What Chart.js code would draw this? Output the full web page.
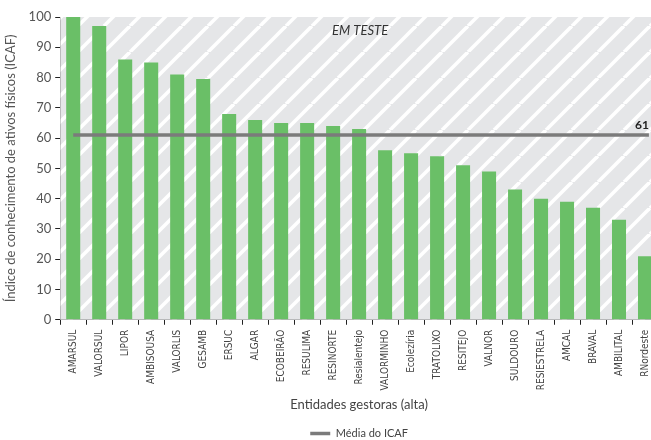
<!DOCTYPE html>
<html>
<head>
<meta charset="utf-8">
<script src="https://cdn.jsdelivr.net/npm/chart.js@4/dist/chart.umd.min.js"></script>
<style>
  html, body { margin: 0; padding: 0; background: #fff; overflow: hidden; }
  #wrap { width: 651px; height: 440px; overflow: hidden; }
  #c { display: block; }
</style>
</head>
<body>
<!-- the last entity's slot runs a few pixels past the right edge of the frame -->
<div id="wrap"><canvas id="c" width="658" height="440"></canvas></div>
<script>
// Entidades gestoras (alta) and their ICAF scores
const categories = ['AMARSUL', 'VALORSUL', 'LIPOR', 'AMBISOUSA', 'VALORLIS', 'GESAMB', 'ERSUC', 'ALGAR',
  'ECOBEIRÃO', 'RESULIMA', 'RESINORTE', 'Resialentejo', 'VALORMINHO', 'Ecolezíria', 'TRATOLIXO',
  'RESITEJO', 'VALNOR', 'SULDOURO', 'RESIESTRELA', 'AMCAL', 'BRAVAL', 'AMBILITAL', 'RNordeste'];
const icafValues = [100, 97, 86, 85, 81, 79.5, 68, 66, 65, 65, 64, 63, 56, 55, 54, 51, 49, 43, 40, 39, 37, 33, 21];
const icafAverage = 61;
// the average line runs from the first entity to just past the last one
const averageSpan = [0, categories.length - 0.85];
const yTicks = [0, 10, 20, 30, 40, 50, 60, 70, 80, 90, 100];
const zoneLabel = 'EM TESTE';

const FONT = 'Lato, "Open Sans", sans-serif';
const NARROW = '"Liberation Sans Narrow", "DejaVu Sans Condensed", Lato, sans-serif';

// diagonal white stripes on light grey for the "em teste" zone
function stripePattern(ctx) {
  const s = 26;
  const tile = document.createElement('canvas');
  tile.width = s; tile.height = s;
  const t = tile.getContext('2d');
  t.fillStyle = '#e5e6e8';
  t.fillRect(0, 0, s, s);
  t.strokeStyle = '#ffffff';
  t.lineWidth = 3.6;
  for (const k of [-s, 0, s]) {
    t.beginPath();
    t.moveTo(k, s);
    t.lineTo(k + s, 0);
    t.stroke();
  }
  return ctx.createPattern(tile, 'repeat');
}

const zonePlugin = {
  id: 'zone',
  beforeDatasetsDraw(chart) {
    const { ctx, chartArea: a } = chart;
    ctx.save();
    ctx.fillStyle = stripePattern(ctx);
    ctx.fillRect(a.left, a.top, a.right - a.left, a.bottom - a.top);
    ctx.fillStyle = '#333';
    ctx.font = 'italic 13px ' + FONT;
    ctx.textAlign = 'left';
    ctx.textBaseline = 'middle';
    ctx.fillText(zoneLabel, chart.scales.x.getPixelForValue(10) - 1, a.top + 14);
    ctx.restore();
  },
  afterDatasetsDraw(chart) {
    const { ctx } = chart;
    const y = chart.scales.y.getPixelForValue(icafAverage);
    const xEnd = chart.scales.x2.getPixelForValue(averageSpan[1]);
    ctx.save();
    ctx.fillStyle = '#222';
    ctx.font = 'bold 12px ' + FONT;
    ctx.textAlign = 'right';
    ctx.textBaseline = 'bottom';
    ctx.fillText(String(icafAverage), xEnd, y - 4);
    ctx.restore();
  }
};

new Chart(document.getElementById('c'), {
  data: {
    labels: categories,
    datasets: [
      {
        type: 'bar',
        label: 'ICAF',
        data: icafValues,
        backgroundColor: '#6abf67',
        grouped: false,
        barPercentage: 1,
        categoryPercentage: 0.54,
        order: 2
      },
      {
        type: 'line',
        label: 'Média do ICAF',
        xAxisID: 'x2',
        data: averageSpan.map(x => ({ x, y: icafAverage })),
        borderColor: '#7b7b7b',
        backgroundColor: '#7b7b7b',
        borderWidth: 3.5,
        pointRadius: 0,
        clip: false,
        order: 1
      }
    ]
  },
  plugins: [zonePlugin],
  options: {
    responsive: false,
    animation: false,
    layout: { padding: { left: 3, right: 0, top: 17, bottom: -9 } },
    plugins: {
      tooltip: { enabled: false },
      legend: {
        position: 'bottom',
        fullSize: false,
        labels: {
          filter: item => item.text === 'Média do ICAF',
          usePointStyle: true,
          pointStyle: 'line',
          pointStyleWidth: 20,
          color: '#444',
          font: { family: FONT, size: 11 },
          padding: 4
        }
      }
    },
    scales: {
      x: {
        type: 'category',
        offset: true,
        afterFit: s => { s.paddingLeft = 0; s.paddingRight = 0; },
        border: { display: true, color: '#222', width: 1 },
        grid: { display: true, drawOnChartArea: false, drawTicks: true, tickLength: 5, color: '#222', offset: true },
        ticks: {
          autoSkip: false,
          maxRotation: 90,
          minRotation: 90,
          color: '#444',
          font: { family: NARROW, size: 10 },
          padding: 5
        },
        title: {
          display: true,
          text: 'Entidades gestoras (alta)',
          color: '#444',
          font: { family: FONT, size: 13 },
          padding: { top: 2, bottom: 11 }
        }
      },
      x2: {
        type: 'linear',
        display: false,
        min: -0.5,
        max: categories.length - 0.5
      },
      y: {
        min: 0,
        max: 100,
        afterBuildTicks: scale => { scale.ticks = yTicks.map(v => ({ value: v })); },
        border: { display: true, color: '#222', width: 1 },
        grid: { display: true, drawOnChartArea: false, drawTicks: true, tickLength: 5, color: '#222' },
        ticks: {
          color: '#555',
          font: { family: FONT, size: 13 },
          padding: 4
        },
        title: {
          display: true,
          text: 'Índice de conhecimento de ativos físicos (ICAF)',
          color: '#555',
          font: { family: FONT, size: 13 },
          padding: { top: 0, bottom: 6 }
        }
      }
    }
  }
});
</script>
</body>
</html>
